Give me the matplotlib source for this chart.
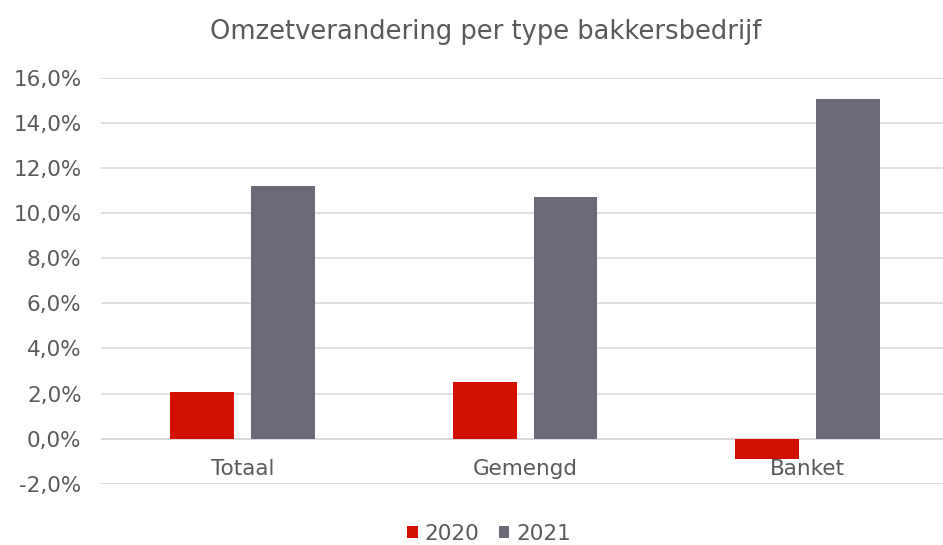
import numpy as np
import matplotlib.pyplot as plt
from matplotlib.ticker import FuncFormatter

# Data
categories = ["Totaal", "Gemengd", "Banket"]
years = ["2020", "2021"]
values_2020 = [2.05, 2.5, -0.9]
values_2021 = [11.2, 10.7, 15.05]
y_ticks = np.arange(-2, 17, 2)

colors = ["#D11000", "#6B6878"]
text_color = "#595959"

fig = plt.figure(figsize=(9.43, 5.45), dpi=100)
ax = fig.add_axes([101 / 943, 1 - 483.7 / 545, 1 - 101 / 943, (483.7 - 78) / 545])

x = np.arange(len(categories))
w = 0.226
off = 0.143
ax.bar(x - off, values_2020, w, color=colors[0], label=years[0], zorder=3)
ax.bar(x + off, values_2021, w, color=colors[1], label=years[1], zorder=3)

ax.set_ylim(-2, 16)
ax.set_xlim(-0.5, 2.478)
ax.set_yticks(y_ticks)
ax.yaxis.set_major_formatter(FuncFormatter(lambda v, p: f"{v:.1f}%".replace(".", ",")))
ax.grid(axis="y", color="#D9D9D9", linewidth=1.2, zorder=0)
ax.axhline(0, color="#D9D9D9", linewidth=1.2, zorder=1)

for s in ax.spines.values():
    s.set_visible(False)
ax.tick_params(axis="y", length=0, pad=14, labelsize=15.5, labelcolor=text_color)
ax.set_xticks([])

# category labels sit just below the zero line
for xi, name in zip(x, categories):
    ax.annotate(name, (xi, 0), xytext=(0, -15), textcoords="offset points",
                ha="center", va="top", fontsize=15.5, color=text_color)

fig.text(486 / 943, 1 - 32 / 545, "Omzetverandering per type bakkersbedrijf",
         ha="center", va="center", fontsize=18.5, color=text_color)

leg = fig.legend(loc="center", bbox_to_anchor=(489 / 943, 1 - 534 / 545), ncol=2,
                 frameon=False, fontsize=15.5, handlelength=0.5, handleheight=0.5,
                 handletextpad=0.3, columnspacing=0.9)
for t in leg.get_texts():
    t.set_color(text_color)

fig.savefig("out.png", dpi=100)
